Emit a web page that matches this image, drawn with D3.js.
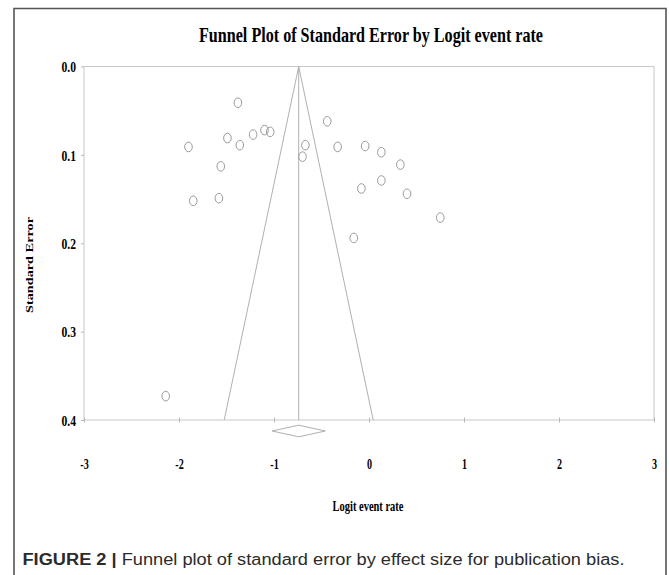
<!DOCTYPE html>
<html>
<head>
<meta charset="utf-8">
<script src="https://cdn.jsdelivr.net/npm/d3@7"></script>
<style>
  html, body { margin: 0; padding: 0; background: #fff; }
  svg { display: block; }
</style>
</head>
<body>
<script>
// ---- Data ----
const logitRates = [-1.38, -1.90, -1.49, -1.36, -1.22, -1.10, -1.04, -1.56, -1.85, -1.58,
                    -0.67, -0.70, -0.44, -0.33, -0.04, 0.13, 0.33, -0.08, 0.13, 0.40, 0.75, -0.16, -2.14];
const stdErrors = [0.041, 0.091, 0.081, 0.089, 0.077, 0.072, 0.074, 0.113, 0.152, 0.149,
                   0.089, 0.102, 0.062, 0.091, 0.090, 0.097, 0.111, 0.138, 0.129, 0.144, 0.171, 0.194, 0.373];
const pooledEstimate = [-0.74];
const pooledCI = [-1.02, -0.46];
const xTicks = [-3, -2, -1, 0, 1, 2, 3];
const xTickLabels = ["-3", "-2", "-1", "0", "1", "2", "3"];
const yTicks = [0.0, 0.1, 0.2, 0.3, 0.4];
const yTickLabels = ["0.0", "0.1", "0.2", "0.3", "0.4"];
const titleText = "Funnel Plot of Standard Error by Logit event rate";
const xLabel = "Logit event rate";
const yLabel = "Standard Error";
const captionBold = "FIGURE 2 |";
const captionRest = " Funnel plot of standard error by effect size for publication bias.";

const W = 669, H = 575;
const svg = d3.select("body").append("svg").attr("width", W).attr("height", H);

const x = d3.scaleLinear().domain([-3, 3]).range([84, 654]);
const y = d3.scaleLinear().domain([0, 0.4]).range([66.5, 420]);

const serif = "'Liberation Serif', 'Times New Roman', serif";

function squeeze(sel, factor) {
  sel.each(function() {
    const len = this.getComputedTextLength();
    d3.select(this).attr("textLength", len * factor).attr("lengthAdjust", "spacingAndGlyphs");
  });
}

// Outer frame
svg.append("path")
  .attr("d", `M14,${H} L14,8.5 L666,8.5 L666,${H}`)
  .attr("fill", "none").attr("stroke", "#555").attr("stroke-width", 1.6);

// Plot area border
svg.append("rect")
  .attr("x", x(-3)).attr("y", y(0))
  .attr("width", x(3) - x(-3)).attr("height", y(0.4) - y(0))
  .attr("fill", "none").attr("stroke", "#c8c8c8").attr("stroke-width", 1);

// Axes
const xAxis = d3.axisBottom(x).tickValues(xTicks).tickSize(0)
  .tickFormat((d, i) => xTickLabels[i]);
const gx = svg.append("g").attr("transform", `translate(0,${y(0.4)})`).call(xAxis);
gx.select(".domain").remove();
gx.selectAll(".tick line").remove();
gx.selectAll(".tick").append("line")
  .attr("y1", -2.5).attr("y2", 2.5).attr("stroke", "#b8b8b8");
gx.selectAll(".tick text")
  .attr("y", 49).attr("dy", 0)
  .attr("font-family", serif).attr("font-weight", "bold").attr("font-size", 14)
  .attr("fill", "#000");
squeeze(gx.selectAll(".tick text"), 0.72);

const yAxis = d3.axisLeft(y).tickValues(yTicks).tickSize(0)
  .tickFormat((d, i) => yTickLabels[i]);
const gy = svg.append("g").attr("transform", `translate(${x(-3)},0)`).call(yAxis);
gy.select(".domain").remove();
gy.selectAll(".tick line").remove();
gy.selectAll(".tick").append("line")
  .attr("x1", -3).attr("x2", 0).attr("stroke", "#b8b8b8");
gy.selectAll(".tick text")
  .attr("x", -8).attr("dy", "0.36em")
  .attr("font-family", serif).attr("font-weight", "bold").attr("font-size", 14.5)
  .attr("fill", "#000");
squeeze(gy.selectAll(".tick text"), 0.8);

// Funnel
const m = pooledEstimate[0];
const seMax = 0.4;
const funnel = [[m - 1.96 * seMax, seMax], [m, 0], [m + 1.96 * seMax, seMax]];
svg.append("path")
  .attr("d", d3.line().x(d => x(d[0])).y(d => y(d[1]))(funnel))
  .attr("fill", "none").attr("stroke", "#b0b0b0").attr("stroke-width", 1);
svg.append("line")
  .attr("x1", x(m)).attr("x2", x(m)).attr("y1", y(0)).attr("y2", y(0.4))
  .attr("stroke", "#b0b0b0").attr("stroke-width", 1);

// Study points
svg.append("g").selectAll("ellipse")
  .data(logitRates.map((v, i) => ({ x: v, se: stdErrors[i] })))
  .join("ellipse")
  .attr("cx", d => x(d.x)).attr("cy", d => y(d.se))
  .attr("rx", 3.8).attr("ry", 4.8)
  .attr("fill", "none").attr("stroke", "#9a9a9a").attr("stroke-width", 1);

// Pooled diamond
const dy0 = y(0.4) + 11;
svg.append("path")
  .attr("d", `M${x(pooledCI[0])},${dy0} L${x(m)},${dy0 - 5.8} L${x(pooledCI[1])},${dy0} L${x(m)},${dy0 + 5.8} Z`)
  .attr("fill", "none").attr("stroke", "#b0b0b0").attr("stroke-width", 1);

// Title
svg.append("text")
  .attr("x", 371).attr("y", 42).attr("text-anchor", "middle")
  .attr("font-family", serif).attr("font-weight", "bold").attr("font-size", 22)
  .attr("fill", "#000").text(titleText)
  .attr("textLength", 344).attr("lengthAdjust", "spacingAndGlyphs");

// X label
svg.append("text")
  .attr("x", 368).attr("y", 511).attr("text-anchor", "middle")
  .attr("font-family", serif).attr("font-weight", "bold").attr("font-size", 14)
  .attr("fill", "#000").text(xLabel)
  .attr("textLength", 71).attr("lengthAdjust", "spacingAndGlyphs");

// Y label
svg.append("text")
  .attr("transform", "translate(33,265) rotate(-90)")
  .attr("text-anchor", "middle")
  .attr("font-family", serif).attr("font-weight", "bold").attr("font-size", 11)
  .attr("fill", "#000").text(yLabel)
  .attr("textLength", 96).attr("lengthAdjust", "spacingAndGlyphs");

// Caption
const cap = svg.append("text")
  .attr("x", 22.5).attr("y", 565)
  .attr("font-family", "'Liberation Sans', Arial, Helvetica, sans-serif").attr("font-size", 16)
  .attr("fill", "#2b2b2b");
cap.append("tspan").attr("font-weight", "bold").text(captionBold);
cap.append("tspan").text(captionRest);
cap.attr("textLength", 602).attr("lengthAdjust", "spacingAndGlyphs");
</script>
</body>
</html>
